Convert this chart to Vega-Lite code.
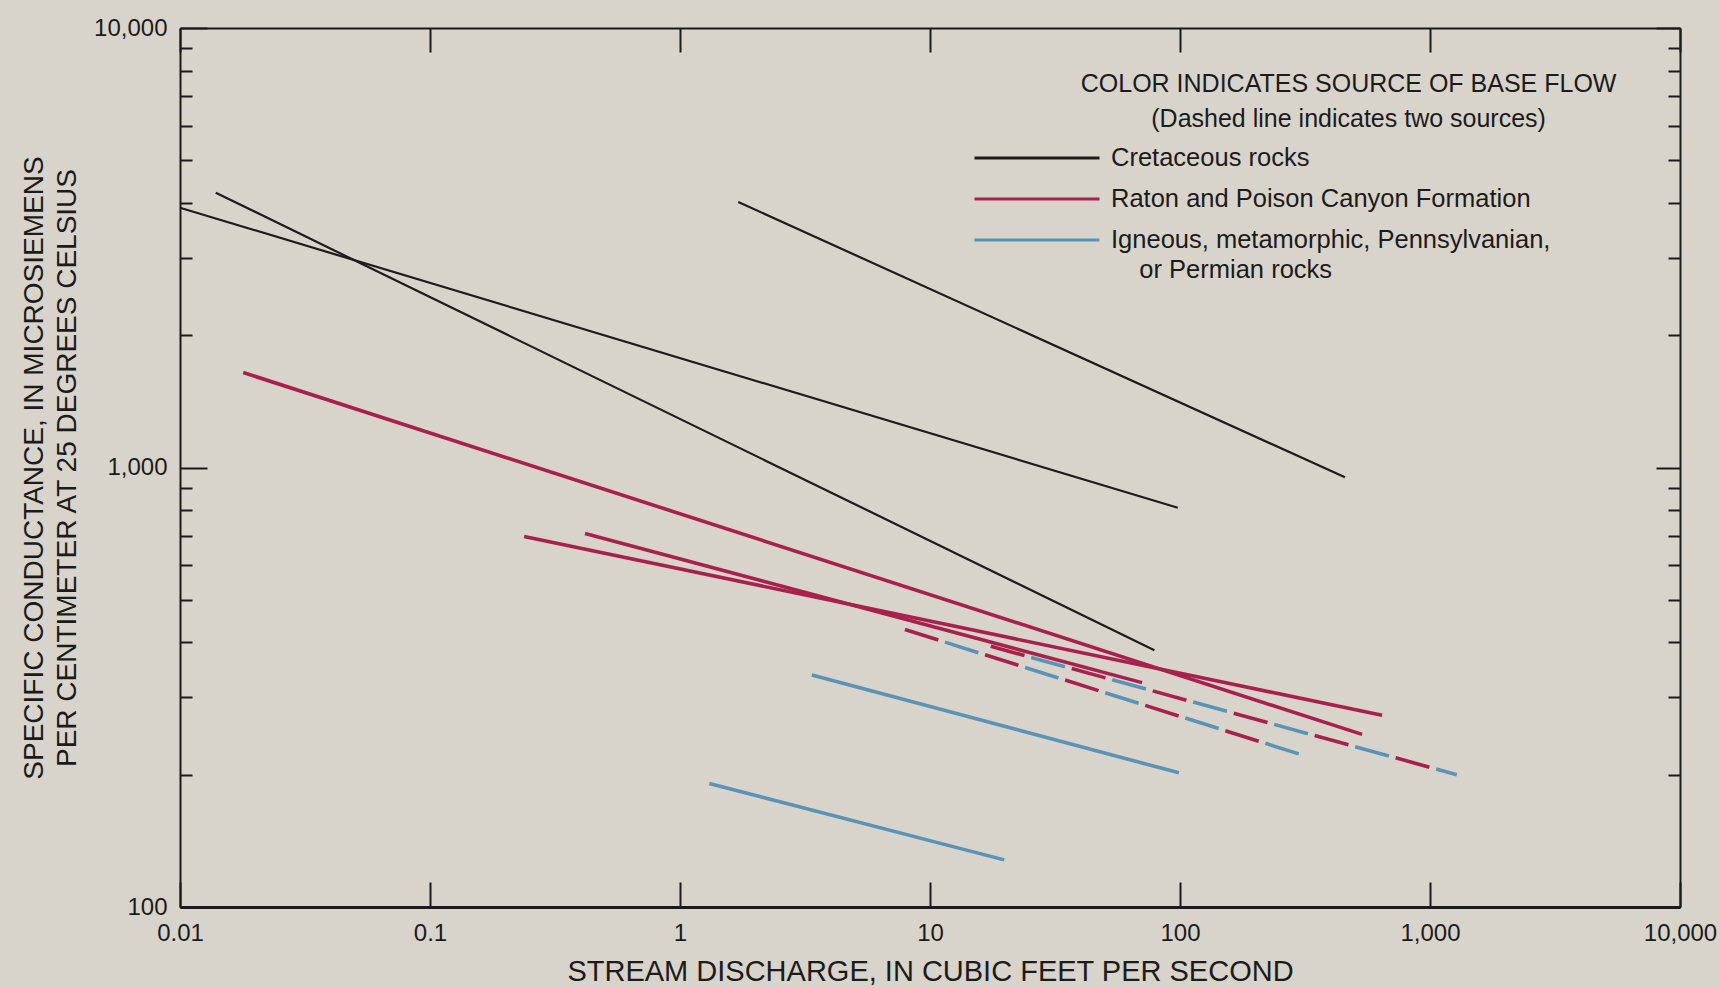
{
  "$schema": "https://vega.github.io/schema/vega-lite/v6.json",
  "description": "Specific conductance versus stream discharge, by source of base flow",
  "width": 1500,
  "height": 879,
  "autosize": "none",
  "padding": {"left": 180, "top": 28, "right": 40, "bottom": 81},
  "background": "#d8d4cb",
  "config": {
    "view": {"stroke": null},
    "font": "Liberation Sans",
    "style": {"guide-label": {"lineHeight": 30}},
    "axis": {
      "grid": false,
      "domainColor": "#1c1b1b",
      "domainWidth": 2,
      "tickColor": "#1c1b1b",
      "tickWidth": 2,
      "labelColor": "#1c1b1b",
      "titleColor": "#1c1b1b",
      "labelFont": "Liberation Sans",
      "titleFont": "Liberation Sans",
      "titleFontWeight": "normal",
      "labelFontSize": 24
    }
  },
  "title": {
    "text": "COLOR INDICATES SOURCE OF BASE FLOW",
    "subtitle": "(Dashed line indicates two sources)",
    "anchor": "start",
    "align": "center",
    "dx": 1328,
    "dy": 120,
    "font": "Liberation Sans",
    "fontSize": 25,
    "fontWeight": "normal",
    "color": "#1c1b1b",
    "subtitleFont": "Liberation Sans",
    "subtitleFontSize": 25,
    "subtitleColor": "#1c1b1b",
    "subtitlePadding": 10
  },
  "datasets": {
    "oneSource": [
      {"line": "K1", "source": "Cretaceous rocks", "discharge": 0.01, "conductance": 3900},
      {"line": "K1", "source": "Cretaceous rocks", "discharge": 98, "conductance": 810},
      {"line": "K2", "source": "Cretaceous rocks", "discharge": 0.0139, "conductance": 4220},
      {"line": "K2", "source": "Cretaceous rocks", "discharge": 79, "conductance": 384},
      {"line": "K3", "source": "Cretaceous rocks", "discharge": 1.71, "conductance": 4020},
      {"line": "K3", "source": "Cretaceous rocks", "discharge": 457, "conductance": 950},
      {"line": "R1", "source": "Raton and Poison Canyon Formation", "discharge": 0.0179, "conductance": 1645},
      {"line": "R1", "source": "Raton and Poison Canyon Formation", "discharge": 535, "conductance": 247},
      {"line": "R2", "source": "Raton and Poison Canyon Formation", "discharge": 0.238, "conductance": 697},
      {"line": "R2", "source": "Raton and Poison Canyon Formation", "discharge": 643, "conductance": 273},
      {"line": "R3", "source": "Raton and Poison Canyon Formation", "discharge": 0.417, "conductance": 708},
      {"line": "R3", "source": "Raton and Poison Canyon Formation", "discharge": 70.5, "conductance": 324},
      {"line": "B1", "source": "Igneous, metamorphic, Pennsylvanian, or Permian rocks", "discharge": 3.37, "conductance": 337},
      {"line": "B1", "source": "Igneous, metamorphic, Pennsylvanian, or Permian rocks", "discharge": 99, "conductance": 202},
      {"line": "B2", "source": "Igneous, metamorphic, Pennsylvanian, or Permian rocks", "discharge": 1.31, "conductance": 191},
      {"line": "B2", "source": "Igneous, metamorphic, Pennsylvanian, or Permian rocks", "discharge": 19.8, "conductance": 128}
    ],
    "twoSources": [
      {"line": "D1", "discharge": 7.94, "conductance": 428},
      {"line": "D1", "discharge": 299, "conductance": 223},
      {"line": "D2", "discharge": 17.5, "conductance": 392},
      {"line": "D2", "discharge": 1280, "conductance": 200}
    ]
  },
  "layer": [
    {
      "data": {"name": "oneSource"},
      "transform": [{"filter": "datum.source === 'Cretaceous rocks'"}],
      "mark": {"type": "line", "strokeWidth": 2.2},
      "encoding": {
        "x": {
          "field": "discharge", "type": "quantitative",
          "scale": {"type": "log", "domain": [0.01, 10000]},
          "axis": {
            "orient": "bottom", "values": [0.01, 0.1, 1, 10, 100, 1000, 10000],
            "format": ",", "tickSize": -25, "labelPadding": 39, "domainWidth": 3,
            "labelFlush": false, "labelOverlap": false,
            "title": "STREAM DISCHARGE, IN CUBIC FEET PER SECOND",
            "titleFontSize": 29, "titlePadding": 12
          }
        },
        "y": {
          "field": "conductance", "type": "quantitative",
          "scale": {"type": "log", "domain": [100, 10000]},
          "axis": {
            "orient": "left", "values": [100, 1000, 10000],
            "format": ",", "tickSize": -27, "labelPadding": 40,
            "labelFlush": false, "labelOverlap": false,
            "title": ["SPECIFIC CONDUCTANCE, IN MICROSIEMENS", "PER CENTIMETER AT 25 DEGREES CELSIUS"],
            "titleFontSize": 28, "titleLineHeight": 33, "titlePadding": 12
          }
        },
        "color": {
          "field": "source", "type": "nominal",
          "scale": {
            "domain": ["Cretaceous rocks", "Raton and Poison Canyon Formation", "Igneous, metamorphic, Pennsylvanian, or Permian rocks"],
            "range": ["#1e1b1c", "#a8204c", "#5a93b4"]
          },
          "legend": {
            "title": null,
            "orient": "none",
            "legendX": 843,
            "legendY": 116,
            "padding": 0,
            "symbolType": "M-5,0H5",
            "symbolSize": 625,
            "symbolStrokeWidth": 3,
            "labelOffset": 60,
            "rowPadding": 13,
            "labelFont": "Liberation Sans",
            "labelFontSize": 25.5,
            "labelColor": "#1c1b1b",
            "labelLimit": 0,
            "labelExpr": "datum.label === 'Igneous, metamorphic, Pennsylvanian, or Permian rocks' ? ['Igneous, metamorphic, Pennsylvanian,', '\u200b\u00a0\u00a0\u00a0\u00a0or Permian rocks'] : datum.label"
          }
        },
        "detail": {"field": "line"}
      }
    },
    {
      "data": {"name": "oneSource"},
      "transform": [{"filter": "datum.source !== 'Cretaceous rocks'"}],
      "mark": {"type": "line", "strokeWidth": 3.6},
      "encoding": {
        "x": {
          "field": "discharge", "type": "quantitative",
          "axis": {
            "orient": "top", "values": [0.01, 0.1, 1, 10, 100, 1000, 10000],
            "tickSize": -24, "labels": false, "title": null
          }
        },
        "y": {
          "field": "conductance", "type": "quantitative",
          "axis": {
            "orient": "left",
            "values": [200, 300, 400, 500, 600, 700, 800, 900, 2000, 3000, 4000, 5000, 6000, 7000, 8000, 9000],
            "tickSize": -12, "labels": false, "domain": false, "title": null
          }
        },
        "color": {"field": "source", "type": "nominal"},
        "detail": {"field": "line"}
      }
    },
    {
      "data": {"name": "twoSources"},
      "mark": {"type": "line", "strokeWidth": 3.6, "color": "#a8204c", "strokeDash": [35, 49]},
      "encoding": {
        "x": {"field": "discharge", "type": "quantitative", "axis": null},
        "y": {
          "field": "conductance", "type": "quantitative",
          "axis": {
            "orient": "right", "values": [100, 1000, 10000],
            "tickSize": -24, "labels": false, "title": null
          }
        },
        "detail": {"field": "line"}
      }
    },
    {
      "data": {"name": "twoSources"},
      "mark": {"type": "line", "strokeWidth": 3.6, "color": "#5a93b4", "strokeDash": [35, 49], "strokeDashOffset": 42},
      "encoding": {
        "x": {"field": "discharge", "type": "quantitative", "axis": null},
        "y": {
          "field": "conductance", "type": "quantitative",
          "axis": {
            "orient": "right",
            "values": [200, 300, 400, 500, 600, 700, 800, 900, 2000, 3000, 4000, 5000, 6000, 7000, 8000, 9000],
            "tickSize": -12, "labels": false, "domain": false, "title": null
          }
        },
        "detail": {"field": "line"}
      }
    }
  ],
  "resolve": {"axis": {"x": "independent", "y": "independent"}}
}
